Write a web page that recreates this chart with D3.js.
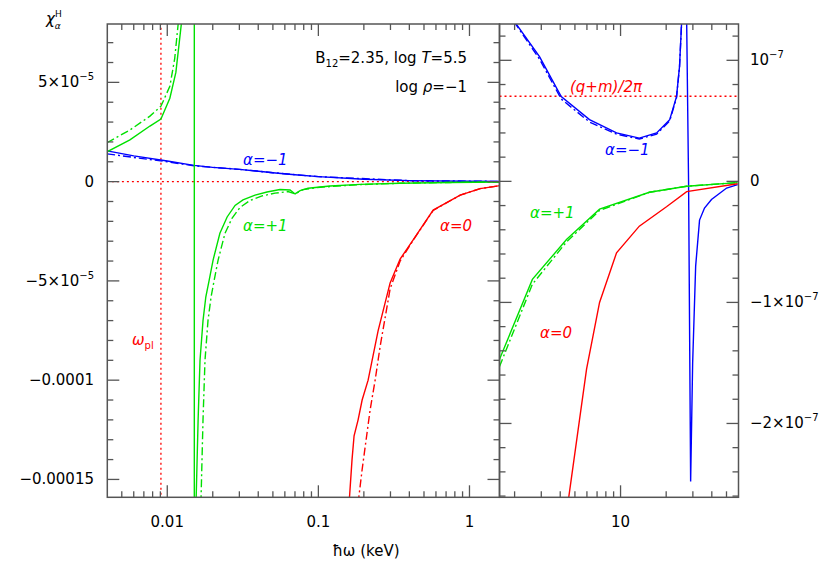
<!DOCTYPE html>
<html>
<head>
<meta charset="utf-8">
<script src="https://cdn.jsdelivr.net/npm/d3@7"></script>
<style>
  body { margin: 0; background: #fff; }
  text { font-family: "DejaVu Sans", sans-serif; font-size: 15px; }
</style>
</head>
<body>
<script>
'use strict';

// left panel: x in keV, y in units of 1e-5
const leftBlue = [[0.004, 1.55], [0.006, 1.3], [0.01, 1.04], [0.015, 0.82], [0.02, 0.72], [0.03, 0.62],
  [0.05, 0.45], [0.07, 0.35], [0.1, 0.25], [0.2, 0.12], [0.4, 0.05], [1, 0.02], [1.58, 0.01]];
const leftBlueDash = [[0.004, 1.4], [0.006, 1.22], [0.01, 1.0], [0.015, 0.8], [0.02, 0.72], [0.03, 0.62],
  [0.05, 0.45], [0.1, 0.25], [0.4, 0.05], [1.58, 0.01]];
const leftGreenLow = [[0.00399, 1.5], [0.00566, 2.1], [0.00768, 2.8], [0.00908, 3.15], [0.0104, 4.2],
  [0.0114, 5.5], [0.0120, 7], [0.0125, 8.2]];
const leftGreenLowDash = [[0.00399, 1.96], [0.00566, 2.6], [0.00768, 3.3], [0.00908, 3.8], [0.0104, 4.8],
  [0.0112, 6.2], [0.0119, 8.2]];
const leftGreenPole = [[0.0151, 8.2], [0.0151, -16.2]];
const leftGreenHigh = [[0.0155, -16.2], [0.0160, -12], [0.01647, -9], [0.01724, -7], [0.0180, -5.8],
  [0.0189, -5], [0.0201, -3.95], [0.0223, -2.6], [0.0249, -1.78], [0.0281, -1.2], [0.0317, -0.92],
  [0.0381, -0.68], [0.0457, -0.52], [0.0557, -0.4], [0.0650, -0.42], [0.0701, -0.62], [0.0757, -0.45],
  [0.0855, -0.33], [0.1195, -0.22], [0.189, -0.14], [0.347, -0.08], [0.745, -0.04], [1.57, -0.02]];
const leftGreenHighDash = [[0.0167, -16.2], [0.01724, -12], [0.01777, -9], [0.0186, -7], [0.0195, -5.8],
  [0.0204, -5], [0.0217, -3.95], [0.0241, -2.6], [0.0268, -1.85], [0.0303, -1.3], [0.0353, -0.95],
  [0.0424, -0.72], [0.0516, -0.58], [0.0630, -0.5], [0.0701, -0.62], [0.0792, -0.4], [0.1026, -0.28],
  [0.189, -0.15], [0.347, -0.08], [0.745, -0.04], [1.57, -0.02]];
const leftRed = [[0.1597, -16.2], [0.167, -14], [0.1723, -12.8], [0.1832, -12], [0.1948, -11], [0.2134, -10],
  [0.2486, -7.5], [0.2984, -5.1], [0.3475, -3.9], [0.424, -2.93], [0.575, -1.43], [0.868, -0.68],
  [1.177, -0.35], [1.597, -0.2]];
const leftRedDash = [[0.1832, -16.2], [0.1948, -14.5], [0.207, -13], [0.220, -11.5], [0.2375, -10],
  [0.2563, -8.3], [0.2984, -5.4], [0.3475, -4.0], [0.424, -2.95], [0.575, -1.45], [0.868, -0.68],
  [1.177, -0.35], [1.597, -0.2]];
const omegaPl = 0.00908;

// right panel: x in keV, y in units of 1e-7
const rightBlue = [[1.996, 1.32], [2.92, 1.03], [4.06, 0.70], [6.24, 0.51], [9.41, 0.40], [13.3, 0.357],
  [17.3, 0.40], [21.1, 0.51], [23.4, 0.70], [24.5, 0.95], [25.3, 1.32]];
const rightBlueDash = [[1.98, 1.32], [2.92, 1.01], [4.06, 0.68], [6.24, 0.49], [9.41, 0.39], [13.3, 0.35],
  [17.3, 0.39], [21.1, 0.50], [23.4, 0.69], [24.5, 0.95], [25.3, 1.32]];
const rightBlueSpike = [[27.3, 1.32], [28.1, 0], [29.0, -2.48], [29.9, -1.5], [31.3, -0.7], [33.2, -0.32],
  [35.8, -0.22], [39.8, -0.15], [50.1, -0.055], [59.2, -0.027]];
const rightGreen = [[1.59, -1.47], [2.62, -0.81], [4.40, -0.48], [7.27, -0.23], [15.5, -0.09],
  [27.3, -0.04], [59.2, -0.01]];
const rightGreenDash = [[1.59, -1.53], [2.62, -0.85], [4.40, -0.5], [7.27, -0.24], [15.5, -0.09],
  [27.3, -0.04], [59.2, -0.01]];
const rightRed = [[4.54, -2.62], [5.36, -1.97], [5.97, -1.55], [7.27, -1.0], [9.41, -0.59], [13.3, -0.37],
  [20.1, -0.21], [27.3, -0.085], [59.2, -0.02]];
const qmLevel = 0.703;

const leftTicks = [[5, '5×10', '−5'], [0, '0'], [-5, '−5×10', '−5'], [-10, '−0.0001'], [-15, '−0.00015']];
const rightTicks = [[1, '10', '−7'], [0, '0'], [-1, '−1×10', '−7'], [-2, '−2×10', '−7']];
const xTickLabels = [[0.01, '0.01'], [0.1, '0.1'], [1, '1'], [10, '10']];

const W = 830, H = 564;
const plotTop = 24, plotBottom = 497.3;
const svg = d3.select('body').append('svg').attr('width', W).attr('height', H);

const BLUE = '#0000ff', GREEN = '#00e000', RED = '#ff0000', FRAME = '#555';
const DASH = '8,3,2,3';

function panel(id, x0, x1, xDom, yDom, minorStep) {
  const x = d3.scaleLog().domain(xDom).range([x0, x1]);
  const y = d3.scaleLinear().domain(yDom).range([plotBottom, plotTop]);
  svg.append('clipPath').attr('id', id).append('rect')
    .attr('x', x0).attr('y', plotTop).attr('width', x1 - x0).attr('height', plotBottom - plotTop);
  const g = svg.append('g');
  const plot = g.append('g').attr('clip-path', `url(#${id})`);
  const line = d3.line().x((d) => x(d[0])).y((d) => y(d[1]));

  function curve(data, color, dash, width = 1.4) {
    plot.append('path').datum(data).attr('d', line)
      .attr('fill', 'none').attr('stroke', color).attr('stroke-width', width)
      .attr('stroke-dasharray', dash || null);
  }

  // x ticks (top and bottom)
  const lo = Math.floor(Math.log10(xDom[0])), hi = Math.ceil(Math.log10(xDom[1]));
  for (let e = lo; e <= hi; e++) {
    for (let m = 1; m < 10; m++) {
      const v = m * Math.pow(10, e);
      if (v <= xDom[0] || v >= xDom[1]) continue;
      const len = m === 1 ? 12 : 6;
      g.append('line').attr('x1', x(v)).attr('x2', x(v)).attr('y1', plotBottom).attr('y2', plotBottom - len)
        .attr('stroke', FRAME).attr('stroke-width', 1.3);
      g.append('line').attr('x1', x(v)).attr('x2', x(v)).attr('y1', plotTop).attr('y2', plotTop + len)
        .attr('stroke', FRAME).attr('stroke-width', 1.3);
    }
  }
  // y ticks (both sides)
  const n0 = Math.ceil(yDom[0] / minorStep - 1e-9), n1 = Math.floor(yDom[1] / minorStep + 1e-9);
  for (let i = n0; i <= n1; i++) {
    const v = i * minorStep;
    const major = i % 5 === 0;
    const len = major ? 12 : 6;
    [[x0, len], [x1, -len]].forEach(([xx, l]) => {
      g.append('line').attr('x1', xx).attr('x2', xx + l).attr('y1', y(v)).attr('y2', y(v))
        .attr('stroke', FRAME).attr('stroke-width', 1.3);
    });
  }
  g.append('rect').attr('x', x0).attr('y', plotTop).attr('width', x1 - x0).attr('height', plotBottom - plotTop)
    .attr('fill', 'none').attr('stroke', FRAME).attr('stroke-width', 1.5);

  xTickLabels.forEach(([v, t]) => {
    if (v > xDom[0] && v < xDom[1]) {
      g.append('text').attr('x', x(v)).attr('y', 527).attr('text-anchor', 'middle').text(t);
    }
  });
  return { x, y, g, curve };
}

function tickLabel(xx, yy, base, sup, anchor) {
  const t = svg.append('text').attr('x', xx).attr('y', yy + 5).attr('text-anchor', anchor);
  t.append('tspan').text(base);
  if (sup) t.append('tspan').attr('dy', -7).attr('font-size', 10).text(sup);
}

function label(xx, yy, txt, color, anchor = 'start') {
  return svg.append('text').attr('x', xx).attr('y', yy).attr('fill', color)
    .attr('text-anchor', anchor).attr('font-style', 'italic').text(txt);
}

// left panel
const L = panel('clipL', 107.3, 499.5, [0.00401, 1.58], [-15.9, 7.94], 1);
L.curve([[omegaPl, 8], [omegaPl, -16]], RED, '2,3', 1.3);
L.curve([[0.0043, 0], [1.58, 0]], RED, '2,3', 1.3);
L.curve(leftBlueDash, BLUE, DASH);
L.curve(leftBlue, BLUE);
L.curve(leftGreenLowDash, GREEN, DASH);
L.curve(leftGreenLow, GREEN);
L.curve(leftGreenPole, GREEN);
L.curve(leftGreenHighDash, GREEN, DASH);
L.curve(leftGreenHigh, GREEN);
L.curve(leftRedDash, RED, DASH);
L.curve(leftRed, RED);
leftTicks.forEach(([v, b, s]) => tickLabel(94, L.y(v), b, s, 'end'));

// right panel
const R = panel('clipR', 499.5, 738.5, [1.59, 60], [-2.61, 1.3], 0.2);
R.curve([[1.59, qmLevel], [60, qmLevel]], RED, '2,3', 1.3);
R.curve(rightBlueDash, BLUE, DASH);
R.curve(rightBlue, BLUE);
R.curve(rightBlueSpike, BLUE);
R.curve(rightGreenDash, GREEN, DASH);
R.curve(rightGreen, GREEN);
R.curve(rightRed, RED);
rightTicks.forEach(([v, b, s]) => tickLabel(750, R.y(v), b, s, 'start'));

// annotations
const info = svg.append('text').attr('x', 467).attr('y', 63).attr('text-anchor', 'end');
info.append('tspan').text('B');
info.append('tspan').attr('dy', 4).attr('font-size', 10).text('12');
info.append('tspan').attr('dy', -4).text('=2.35,  log ');
info.append('tspan').attr('font-style', 'italic').text('T');
info.append('tspan').text('=5.5');
const rho = svg.append('text').attr('x', 467).attr('y', 92).attr('text-anchor', 'end');
rho.append('tspan').text('log ');
rho.append('tspan').attr('font-style', 'italic').text('ρ');
rho.append('tspan').text('=−1');

label(243, 165, 'α=−1', BLUE);
label(243, 231, 'α=+1', GREEN);
label(440, 231, 'α=0', RED);
const wp = label(132, 345, 'ω', RED);
wp.append('tspan').attr('dy', 4).attr('font-size', 10).attr('font-style', 'normal').text('pl');
label(605, 155, 'α=−1', BLUE);
label(530, 218, 'α=+1', GREEN);
label(540, 338, 'α=0', RED);
label(570, 92, '(q+m)/2π', RED);

const xt = svg.append('text').attr('x', 366).attr('y', 556).attr('text-anchor', 'middle');
xt.append('tspan').text('ħω (keV)');
const yt = svg.append('text').attr('x', 46).attr('y', 24);
yt.append('tspan').attr('font-style', 'italic').text('χ');
yt.append('tspan').attr('dy', -7).attr('font-size', 9).text('H');
yt.append('tspan').attr('dx', -7).attr('dy', 12).attr('font-size', 9).attr('font-style', 'italic').text('α');
</script>
</body>
</html>
